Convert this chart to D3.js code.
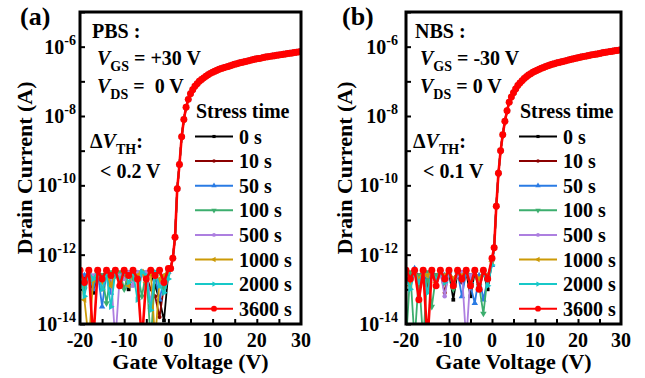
<!DOCTYPE html>
<html>
<head>
<meta charset="utf-8">
<script src="https://cdn.jsdelivr.net/npm/d3@7"></script>
<style>
  body { margin: 0; background: #fff; }
  text { font-family: "Liberation Serif", "Times New Roman", serif; font-weight: bold; white-space: pre; }
</style>
</head>
<body>
<svg id="chart" width="645" height="378" font-family="Liberation Serif, Times New Roman, serif"></svg>
<script>
// gate voltage, off region (1 V steps) and on region (0.5 V steps)
const vOff = [-20, -19, -18, -17, -16, -15, -14, -13, -12, -11, -10, -9, -8, -7, -6, -5, -4, -3, -2, -1, 0];
const vOn = [0.5, 1, 1.5, 2, 2.5, 3, 3.5, 4, 4.5, 5, 5.5, 6, 6.5, 7, 7.5, 8, 8.5, 9, 9.5, 10,
  10.5, 11, 11.5, 12, 12.5, 13, 13.5, 14, 14.5, 15, 15.5, 16, 16.5, 17, 17.5, 18, 18.5, 19, 19.5, 20,
  20.5, 21, 21.5, 22, 22.5, 23, 23.5, 24, 24.5, 25, 25.5, 26, 26.5, 27, 27.5, 28, 28.5, 29, 29.5, 30];

const stressLabels = ['0 s', '10 s', '50 s', '100 s', '500 s', '1000 s', '2000 s', '3600 s'];
const seriesColors = ['#000000', '#8b0000', '#2a7be4', '#3cae6e', '#ad7fe0', '#cc9a06', '#17c8c8', '#ff0000'];

const xTicks = [-20, -10, 0, 10, 20, 30];
const yTickExp = [-6, -8, -10, -12, -14];

// log10(Id) above threshold, shared by all stress times (curves overlap)
const onLogA = [-12.4, -12.1, -11.5, -10.1, -9.4, -8.6, -8.1, -7.75, -7.52, -7.36,
  -7.24, -7.14, -7.07, -7.0, -6.95, -6.9, -6.85, -6.81, -6.77, -6.74,
  -6.71, -6.68, -6.65, -6.63, -6.61, -6.59, -6.57, -6.55, -6.53, -6.51,
  -6.49, -6.47, -6.455, -6.44, -6.425, -6.41, -6.395, -6.38, -6.365, -6.35,
  -6.34, -6.33, -6.315, -6.3, -6.29, -6.28, -6.27, -6.26, -6.25, -6.24,
  -6.23, -6.22, -6.21, -6.2, -6.19, -6.18, -6.17, -6.16, -6.15, -6.14];
const onLogB = [-11.8, -10.6, -9.65, -9.0, -8.54, -8.15, -7.85, -7.6, -7.45, -7.33,
  -7.22, -7.12, -7.05, -6.98, -6.92, -6.87, -6.82, -6.78, -6.74, -6.71,
  -6.68, -6.65, -6.62, -6.6, -6.57, -6.55, -6.53, -6.51, -6.49, -6.47,
  -6.455, -6.44, -6.425, -6.41, -6.395, -6.38, -6.365, -6.35, -6.335, -6.32,
  -6.305, -6.29, -6.28, -6.27, -6.255, -6.24, -6.23, -6.22, -6.21, -6.2,
  -6.185, -6.17, -6.16, -6.15, -6.14, -6.13, -6.12, -6.11, -6.1, -6.09];

// log10(Id) in the off region, per stress time (PBS)
const offLogA = [
  [-12.5, -12.9, -12.5, -13.1, -12.5, -12.6, -12.5, -12.8, -12.5, -12.6, -12.5, -13.0, -12.5, -12.6, -12.5, -12.7, -12.5, -12.9, -13.3, -13.9, -12.5],
  [-12.5, -12.7, -12.5, -12.9, -12.5, -13.0, -12.5, -12.6, -12.5, -12.8, -12.5, -12.6, -12.5, -12.7, -12.5, -12.6, -13.0, -13.2, -13.8, -12.9, -12.5],
  [-12.5, -12.6, -12.5, -13.0, -12.5, -13.5, -12.5, -13.1, -12.5, -12.6, -12.5, -12.9, -12.5, -12.7, -12.5, -12.8, -13.5, -12.6, -13.3, -12.7, -12.5],
  [-12.5, -13.0, -12.5, -12.8, -12.5, -12.6, -13.4, -12.5, -12.6, -12.5, -13.0, -12.5, -12.7, -12.5, -13.2, -12.5, -14.5, -12.6, -12.5, -13.0, -12.5],
  [-12.5, -12.8, -12.5, -12.6, -12.5, -12.9, -12.5, -12.6, -14.5, -12.6, -12.7, -12.5, -12.9, -12.5, -12.6, -12.5, -13.4, -12.5, -12.8, -12.6, -12.5],
  [-12.5, -13.3, -14.5, -12.7, -12.5, -12.8, -12.5, -12.9, -12.5, -12.7, -12.5, -12.9, -12.5, -12.6, -12.5, -12.8, -12.5, -14.5, -12.7, -12.6, -12.5],
  [-12.6, -13.2, -12.5, -12.7, -12.5, -13.0, -12.6, -13.5, -12.5, -12.7, -12.5, -12.8, -12.5, -13.3, -12.5, -12.6, -13.6, -12.5, -12.9, -13.1, -12.7],
  [-12.45, -12.8, -12.45, -14.5, -12.45, -12.7, -12.45, -12.6, -12.45, -12.9, -12.45, -12.6, -12.45, -12.7, -14.5, -12.7, -12.45, -12.6, -12.45, -12.8, -12.4]
];

// log10(Id) in the off region, per stress time (NBS)
const offLogB = [
  [-12.45, -12.7, -12.5, -12.9, -12.5, -12.6, -12.5, -12.8, -12.5, -12.7, -12.5, -13.3, -12.5, -12.6, -12.5, -13.2, -12.5, -12.7, -12.5, -13.0, -12.2],
  [-12.5, -12.8, -12.5, -12.6, -12.5, -12.9, -12.5, -12.6, -12.5, -13.1, -12.5, -12.7, -12.5, -12.8, -12.5, -12.6, -12.5, -13.0, -12.5, -12.8, -12.2],
  [-12.5, -12.6, -12.4, -12.8, -12.5, -12.7, -12.5, -12.9, -12.5, -12.6, -12.5, -12.8, -12.5, -13.2, -12.5, -12.9, -13.4, -12.6, -13.3, -12.7, -12.3],
  [-14.5, -12.5, -14.5, -12.6, -14.5, -12.5, -13.5, -12.6, -12.5, -12.8, -12.5, -13.0, -12.5, -12.7, -12.5, -12.6, -12.5, -12.9, -13.7, -12.6, -12.2],
  [-12.5, -12.7, -12.5, -12.8, -12.5, -12.6, -12.5, -12.9, -12.5, -13.2, -12.5, -12.8, -12.6, -12.5, -14.5, -12.6, -12.5, -12.8, -12.5, -12.6, -12.2],
  [-12.5, -12.9, -12.5, -12.7, -12.5, -12.6, -12.5, -12.8, -12.5, -12.6, -12.5, -12.7, -12.5, -12.6, -12.5, -12.9, -12.5, -12.7, -12.5, -12.6, -12.2],
  [-12.6, -13.0, -12.5, -12.8, -12.5, -13.1, -12.5, -12.7, -12.5, -12.8, -12.5, -12.9, -12.5, -12.7, -12.5, -12.8, -12.5, -13.0, -12.5, -12.9, -12.3],
  [-12.45, -12.7, -12.45, -13.3, -12.45, -14.5, -12.45, -12.9, -12.45, -12.7, -12.45, -12.9, -12.45, -12.7, -12.45, -12.9, -12.45, -13.0, -12.45, -12.7, -12.1]
];

const svg = d3.select('#chart');

const symbols = [
  { type: d3.symbolSquare, size: 14, rot: 0 },
  { type: d3.symbolCircle, size: 14, rot: 0 },
  { type: d3.symbolTriangle, size: 18, rot: 0 },
  { type: d3.symbolTriangle, size: 18, rot: 180 },
  { type: d3.symbolCircle, size: 16, rot: 0 },
  { type: d3.symbolTriangle, size: 18, rot: -90 },
  { type: d3.symbolTriangle, size: 18, rot: 90 },
  { type: d3.symbolCircle, size: 38, rot: 0 }
];

function drawPanel(cfg) {
  const x = d3.scaleLinear().domain([-20, 30]).range([cfg.left, cfg.right]);
  const y = d3.scaleLog().domain([1e-14, 1e-5]).range([324, 12]);
  const g = svg.append('g');

  g.append('clipPath').attr('id', 'clip' + cfg.tag)
    .append('rect').attr('x', cfg.left).attr('y', 12)
    .attr('width', cfg.right - cfg.left).attr('height', 312);

  // axes, ticks pointing inward
  const decades = [];
  for (let e = -14; e <= -5; e++) decades.push(Math.pow(10, e));
  g.append('g').attr('transform', `translate(${cfg.left},0)`)
    .call(d3.axisLeft(y).tickValues(decades).tickSize(-5).tickFormat(''))
    .call(a => a.select('.domain').remove())
    .selectAll('line').attr('stroke', '#000').attr('stroke-width', 2);
  g.append('g').attr('transform', 'translate(0,324)')
    .call(d3.axisBottom(x).tickValues([-15, -10, -5, 0, 5, 10, 15, 20, 25]).tickSize(-5).tickFormat(''))
    .call(a => a.select('.domain').remove())
    .selectAll('line').attr('stroke', '#000').attr('stroke-width', 2);

  // x tick labels
  g.selectAll('.xl').data(xTicks).enter().append('text')
    .attr('x', d => x(d)).attr('y', 347)
    .attr('text-anchor', 'middle').attr('font-size', 20)
    .text(d => d);

  // y tick labels with superscripts
  yTickExp.forEach(e => {
    const t = g.append('text')
      .attr('x', cfg.left - cfg.yLabGap).attr('y', y(Math.pow(10, e)) + 7)
      .attr('text-anchor', 'end').attr('font-size', 20);
    t.append('tspan').text('10');
    t.append('tspan').attr('font-size', 14).attr('dy', -9).text(e);
  });

  // axis titles
  g.append('text')
    .attr('transform', `translate(${cfg.titleX},168) rotate(-90)`)
    .attr('text-anchor', 'middle').attr('font-size', 22)
    .text('Drain Current (A)');
  g.append('text')
    .attr('x', (cfg.left + cfg.right) / 2).attr('y', 369)
    .attr('text-anchor', 'middle').attr('font-size', 22)
    .text('Gate Voltage (V)');

  // data
  const plot = g.append('g').attr('clip-path', `url(#clip${cfg.tag})`);
  const vg = vOff.concat(vOn);
  const line = d3.line().x(d => x(d[0])).y(d => y(d[1]));
  cfg.off.forEach((offVals, i) => {
    const logs = offVals.concat(cfg.on);
    const pts = vg.map((v, k) => [v, Math.pow(10, logs[k])]);
    plot.append('path').datum(pts)
      .attr('fill', 'none').attr('stroke', seriesColors[i])
      .attr('stroke-width', i === 7 ? 2.6 : 1.8)
      .attr('stroke-linejoin', 'round')
      .attr('d', line);
    const sym = d3.symbol().type(symbols[i].type).size(symbols[i].size)();
    plot.selectAll('.m' + i).data(pts).enter().append('path')
      .attr('d', sym)
      .attr('transform', d => `translate(${x(d[0])},${y(d[1])}) rotate(${symbols[i].rot})`)
      .attr('fill', seriesColors[i]);
  });

  // frame
  g.append('rect')
    .attr('x', cfg.left).attr('y', 12)
    .attr('width', cfg.right - cfg.left).attr('height', 312)
    .attr('fill', 'none').attr('stroke', '#000').attr('stroke-width', 3);

  // panel letter
  g.append('text').attr('x', cfg.letterX).attr('y', 25)
    .attr('font-size', 26).text(cfg.letter);

  // annotations
  g.append('text').attr('x', cfg.noteX).attr('y', 38).attr('font-size', 20).text(cfg.mode);
  const vgs = g.append('text').attr('x', cfg.noteX + 5).attr('y', 65).attr('font-size', 20);
  vgs.append('tspan').attr('font-style', 'italic').text('V');
  vgs.append('tspan').attr('font-size', 14).attr('dy', 6).text('GS');
  vgs.append('tspan').attr('dy', -6).text(cfg.vgsText);
  const vds = g.append('text').attr('x', cfg.noteX + 5).attr('y', 93).attr('font-size', 20);
  vds.append('tspan').attr('font-style', 'italic').text('V');
  vds.append('tspan').attr('font-size', 14).attr('dy', 6).text('DS');
  vds.append('tspan').attr('dy', -6).text(cfg.vdsText);
  const dv = g.append('text').attr('x', cfg.noteX - 2).attr('y', 148).attr('font-size', 20);
  dv.append('tspan').text('Δ');
  dv.append('tspan').attr('font-style', 'italic').text('V');
  dv.append('tspan').attr('font-size', 14).attr('dy', 6).text('TH');
  dv.append('tspan').attr('dy', -6).text(':');
  g.append('text').attr('x', cfg.noteX + 8).attr('y', 178).attr('font-size', 20).text(cfg.dvText);

  // legend
  const lx = cfg.legendX;
  g.append('text').attr('x', lx).attr('y', 118).attr('font-size', 20).text('Stress time');
  stressLabels.forEach((lab, i) => {
    const ly = 136.5 + i * 24.6;
    g.append('line').attr('x1', lx - 1).attr('x2', lx + 37).attr('y1', ly).attr('y2', ly)
      .attr('stroke', seriesColors[i]).attr('stroke-width', 2);
    g.append('path')
      .attr('d', d3.symbol().type(symbols[i].type).size(symbols[i].size * 0.7)())
      .attr('transform', `translate(${lx + 18},${ly}) rotate(${symbols[i].rot})`)
      .attr('fill', seriesColors[i]);
    g.append('text').attr('x', lx + 43).attr('y', ly + 7).attr('font-size', 20).text(lab);
  });
}

drawPanel({
  tag: 'a', left: 80, right: 301, on: onLogA, off: offLogA, yLabGap: 4, titleX: 32,
  letter: '(a)', letterX: 20, noteX: 92, mode: 'PBS :',
  vgsText: ' = +30 V', vdsText: ' =  0 V', dvText: '< 0.2 V', legendX: 196
});
drawPanel({
  tag: 'b', left: 406, right: 621, on: onLogB, off: offLogB, yLabGap: 8, titleX: 352,
  letter: '(b)', letterX: 342, noteX: 415, mode: 'NBS :',
  vgsText: ' = -30 V', vdsText: ' = 0 V', dvText: '< 0.1 V', legendX: 520
});
</script>
</body>
</html>
